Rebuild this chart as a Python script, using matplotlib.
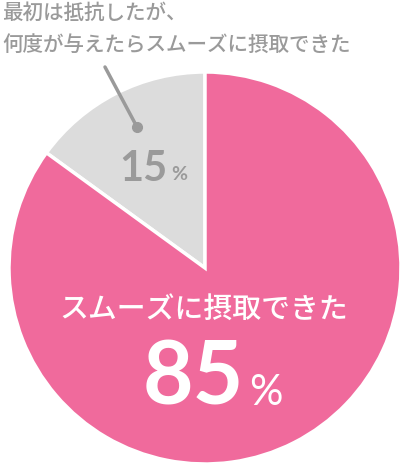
import matplotlib
matplotlib.use("Agg")
import matplotlib.pyplot as plt

plt.rcParams['font.family'] = ['Noto Sans CJK JP', 'DejaVu Sans']

# data
labels = ["最初は抵抗したが、\n何度が与えたらスムーズに摂取できた", "スムーズに摂取できた"]
values = [15, 85]
colors = ["#dcdcdc", "#f06a9c"]

W, H = 401, 465
fig = plt.figure(figsize=(W / 100, H / 100), dpi=100)
ax = fig.add_axes([0, 0, 1, 1])

cx, cy, r = 205, H - 268, 196
ax.pie(values, colors=colors, startangle=90, counterclock=True,
       center=(cx, cy), radius=r, frame=True,
       wedgeprops=dict(edgecolor="white", linewidth=2.5))
ax.set_xlim(0, W)
ax.set_ylim(0, H)
ax.set_aspect("equal")
ax.axis("off")

gray = "#9a9a9a"

# label for small slice, with leader line
ax.text(2, H - 29, labels[0], fontsize=14.8, color=gray, ha="left", va="center",
        linespacing=1.55, fontweight="medium")
ax.plot([105, 137], [H - 67, H - 127], color=gray, lw=2.5, solid_capstyle="round")
ax.plot([137], [H - 127], "o", color=gray, ms=7)

ax.text(167, H - 169, f"{values[0]}", fontsize=30, color=gray, ha="right", va="center",
        family="Lato", fontweight="bold")
ax.text(171, H - 175, "%", fontsize=14, color=gray, ha="left", va="center",
        family="Lato", fontweight="bold")

# label for large slice
ax.text(204, H - 309, labels[1], fontsize=20.8, color="white", ha="center", va="center",
        fontweight="medium")
ax.text(244, H - 379, f"{values[1]}", fontsize=63, color="white", ha="right", va="center",
        family="Lato", fontweight="bold")
ax.text(249, H - 393, "%", fontsize=30, color="white", ha="left", va="center",
        family="Lato")

fig.savefig("out.png", dpi=100)
